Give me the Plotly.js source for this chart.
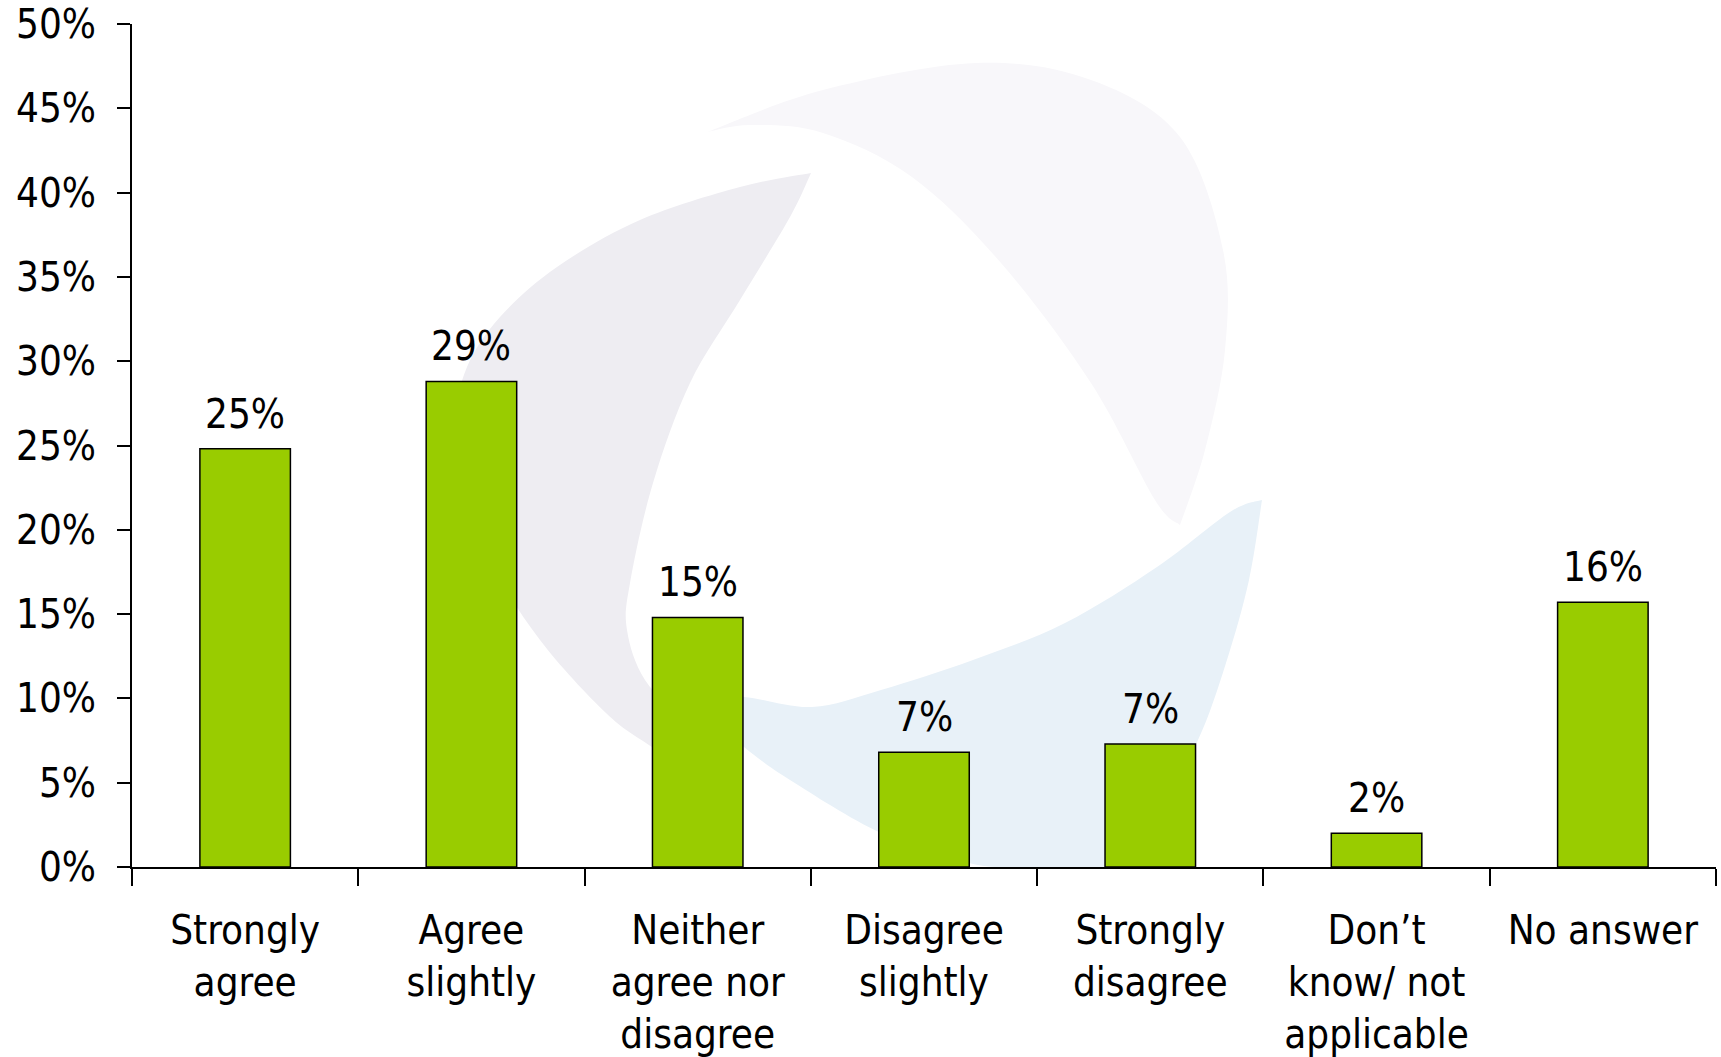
<!DOCTYPE html>
<html>
<head>
<meta charset="utf-8">
<script src="https://cdn.plot.ly/plotly-3.0.1.min.js"></script>
<style>html,body{margin:0;padding:0;background:#fff;}#chart{width:1721px;height:1057px;}</style>
</head>
<body>
<div id="chart"></div>
<script>
// ---- data ----
var categories = ["Strongly<br>agree", "Agree<br>slightly", "Neither<br>agree nor<br>disagree", "Disagree<br>slightly", "Strongly<br>disagree", "Don\u2019t<br>know/ not<br>applicable", "No answer"];
var values = [24.8, 28.8, 14.8, 6.8, 7.3, 2.0, 15.7];
var labels = ["25%", "29%", "15%", "7%", "7%", "2%", "16%"];
var yTickVals = [0, 5, 10, 15, 20, 25, 30, 35, 40, 45, 50];
var yTickText = ["0%", "5%", "10%", "15%", "20%", "25%", "30%", "35%", "40%", "45%", "50%"];

// ---- decorative watermark (pixel outline, converted to paper coords) ----
var W = 1721, H = 1057, ML = 132, MR = 5, MT = 24, MB = 190;
var PW = W - ML - MR, PH = H - MT - MB;
function px2p(p){ return [(p[0]-ML)/PW, (H-MB-p[1])/PH]; }
function smoothEdge(pts){
  var s = "";
  for (var i = 0; i < pts.length-1; i++){
    var p0 = pts[Math.max(i-1,0)], p1 = pts[i], p2 = pts[i+1], p3 = pts[Math.min(i+2, pts.length-1)];
    var c1 = [p1[0]+(p2[0]-p0[0])/6, p1[1]+(p2[1]-p0[1])/6];
    var c2 = [p2[0]-(p3[0]-p1[0])/6, p2[1]-(p3[1]-p1[1])/6];
    var a = px2p(c1), b = px2p(c2), c = px2p(p2);
    s += " C" + a[0] + "," + a[1] + " " + b[0] + "," + b[1] + " " + c[0] + "," + c[1];
  }
  return s;
}
function blade(outer, inner){
  var st = px2p(outer[0]);
  return "M" + st[0] + "," + st[1] + smoothEdge(outer) + smoothEdge(inner) + " Z";
}
var topBlade = blade(
  [[707,132],[823,90],[976,63],[1091,80],[1180,137],[1223,250],[1225,350],[1205,450],[1180,525]],
  [[1180,525],[1155,500],[1091,383],[1001,263],[912,177],[823,133],[751,125],[707,132]]
);
var leftBlade = blade(
  [[811,173],[740,187],[640,220],[557,267],[500,317],[467,367],[456,420],[462,480],[490,560],[540,640],[606,713],[652,747],[720,790]],
  [[720,790],[690,730],[645,680],[627,630],[630,583],[653,483],[690,383],[740,300],[790,217],[811,173]]
);
var blueBlade = blade(
  [[1262,500],[1249,580],[1226,663],[1198,740],[1157,813],[1120,867]],
  [[1120,867],[1040,867],[973,864],[881,833],[790,780],[744,747],[705,712],[690,698],[744,697],[812,707],[881,690],[973,660],[1065,623],[1157,567],[1230,512],[1262,500]]
);

var shapes = [
  {type:"path", xref:"paper", yref:"paper", path:topBlade, fillcolor:"#F8F7FA", line:{width:0}, layer:"below"},
  {type:"path", xref:"paper", yref:"paper", path:leftBlade, fillcolor:"#EEEDF2", line:{width:0}, layer:"below"},
  {type:"path", xref:"paper", yref:"paper", path:blueBlade, fillcolor:"#E8F1F8", line:{width:0}, layer:"below"}
];

var FONT = "DejaVu Sans Condensed, DejaVu Sans, sans-serif";

var annotations = categories.map(function(c, i){
  return {x: c, y: values[i], xref:"x", yref:"y", text: labels[i], showarrow:false,
          yanchor:"bottom", yshift: 10, font:{family:FONT, size:40, color:"#000"}};
});

var trace = {
  type: "bar",
  x: categories,
  y: values,
  marker: {color: "#99CC00", line: {color: "#000000", width: 1.5}},
  hoverinfo: "none"
};

var layout = {
  width: W, height: H,
  margin: {l: ML, r: MR, t: MT, b: MB, pad: 0},
  paper_bgcolor: "#ffffff",
  plot_bgcolor: "rgba(0,0,0,0)",
  showlegend: false,
  bargap: 0.6,
  font: {family: FONT, size: 40, color: "#000"},
  xaxis: {
    type: "category",
    showline: true, linecolor: "#000", linewidth: 2,
    ticks: "outside", ticklen: 17, tickwidth: 2, tickcolor: "#000",
    tickson: "boundaries",
    showgrid: false, zeroline: false,
    tickfont: {family: FONT, size: 40, color: "#000"},
    ticklabelstandoff: 27
  },
  yaxis: {
    range: [0, 50],
    tickvals: yTickVals, ticktext: yTickText,
    showline: true, linecolor: "#000", linewidth: 2,
    ticks: "outside", ticklen: 13, tickwidth: 2, tickcolor: "#000",
    showgrid: false, zeroline: false,
    tickfont: {family: FONT, size: 40, color: "#000"},
    ticklabelstandoff: 13
  },
  shapes: shapes,
  annotations: annotations
};

Plotly.newPlot("chart", [trace], layout, {displayModeBar: false, staticPlot: true});
</script>
</body>
</html>
